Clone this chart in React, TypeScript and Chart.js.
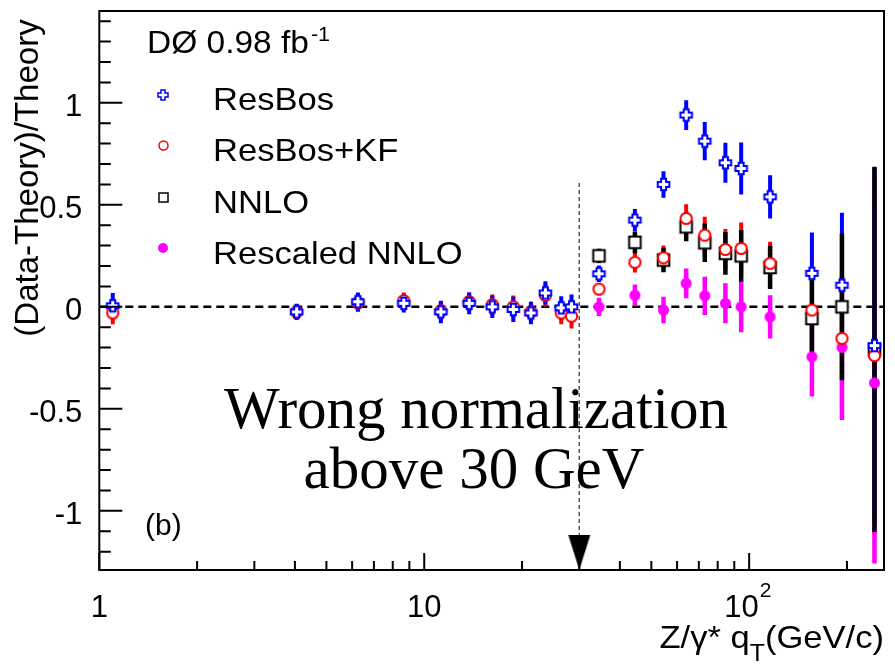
import React, { useEffect, useRef } from "react";
import { Chart, registerables } from "chart.js";

Chart.register(...registerables);

// ---------------- data ----------------
const qtLow = [1.1, 4.05, 6.25, 8.65, 11.25, 13.75, 16.2, 18.8, 21.3, 23.6, 26.4, 28.4];
const qtHigh = [34.5, 44.5, 54.5, 64, 73, 84.5, 94.5, 116, 156, 193, 243];

const resbosLowY = [0.005, -0.025, 0.025, 0.017, -0.025, 0.017, 0.0, -0.013, -0.03, 0.068, -0.005, 0.0];
const resbosLowErr = [0.063, 0.04, 0.045, 0.045, 0.055, 0.053, 0.055, 0.062, 0.055, 0.057, 0.057, 0.06];
const resbosHighY = [0.162, 0.425, 0.6, 0.94, 0.812, 0.706, 0.678, 0.539, 0.164, 0.106, -0.19];
const resbosHighErr = [0.04, 0.055, 0.065, 0.073, 0.094, 0.098, 0.127, 0.106, 0.2, 0.355, 0.87];

const kfLowY = [-0.03, -0.025, 0.02, 0.03, -0.02, 0.025, 0.01, 0.0, -0.025, 0.057, -0.03, -0.046];
const kfLowErr = [0.055, 0.035, 0.045, 0.04, 0.045, 0.045, 0.05, 0.055, 0.05, 0.055, 0.055, 0.06];
const kfHighY = [0.087, 0.218, 0.24, 0.433, 0.351, 0.281, 0.286, 0.213, -0.016, -0.155, -0.239];
const kfHighErr = [0.03, 0.05, 0.06, 0.07, 0.09, 0.1, 0.127, 0.106, 0.2, 0.35, 0.88];

const nnloY = [0.25, 0.316, 0.229, 0.392, 0.314, 0.262, 0.25, 0.193, -0.057, 0.0, -0.209];
const nnloErr = [0.035, 0.053, 0.06, 0.07, 0.094, 0.105, 0.127, 0.106, 0.19, 0.36, 0.895];

const rescaledY = [0.0, 0.057, -0.016, 0.115, 0.054, 0.017, 0.0, -0.049, -0.245, -0.199, -0.373];
const rescaledErr = [0.045, 0.053, 0.065, 0.073, 0.094, 0.098, 0.125, 0.106, 0.195, 0.356, 0.885];

const cutQt = 30;
const cutLineTop = 0.607;
const cutLineBottom = -1.12;

const xMin = 1;
const xMax = 260;
const yMin = -1.29;
const yMax = 1.45;

const xMajorTicks = [1, 10, 100];
const xMajorLabels = ["1", "10", "10\u2002"];
const xMajorExponents = ["", "", "2"];
const xMinorTicks = [2, 3, 4, 5, 6, 7, 8, 9, 20, 30, 40, 50, 60, 70, 80, 90, 200];
const yMajorTicks = [-1, -0.5, 0, 0.5, 1];
const yMajorLabels = ["-1", "-0.5", "0", "0.5", "1"];
const yMinorTicks = [-1.2, -1.1, -0.9, -0.8, -0.7, -0.6, -0.4, -0.3, -0.2, -0.1, 0.1, 0.2, 0.3, 0.4, 0.6, 0.7, 0.8, 0.9, 1.1, 1.2, 1.3, 1.4];

const legendLabels = ["ResBos", "ResBos+KF", "NNLO", "Rescaled NNLO"];
const experimentLabel = "DØ 0.98 fb";
const lumiExponent = "-1";
const noteLines = ["Wrong normalization", "above 30 GeV"];
const panelLabel = "(b)";
const yTitle = "(Data-Theory)/Theory";
const xTitleHead = "Z/γ* q";
const xTitleSub = "T";
const xTitleTail = "(GeV/c)";

// ---------------- styles ----------------
const SANS = '"Liberation Sans", Arial, Helvetica, sans-serif';
const SERIF = '"Liberation Serif", "Times New Roman", serif';
const BLUE = "#0000ff";
const RED = "#ff0000";
const MAGENTA = "#ff00ff";
const BLACK = "#000000";
const SX = 1.08; // horizontal widening of the sans annotation text

function makeCanvas(w: number, h: number, draw: (g: CanvasRenderingContext2D) => void) {
  const c = document.createElement("canvas");
  c.width = w;
  c.height = h;
  const g = c.getContext("2d")!;
  draw(g);
  return c;
}

function crossMarker(t: number, L: number, lw: number) {
  const s = Math.ceil(2 * (L + lw)) + 1;
  return makeCanvas(s, s, (g) => {
    const c = s / 2;
    g.translate(c, c);
    g.beginPath();
    const pts = [
      [-t, -L], [t, -L], [t, -t], [L, -t], [L, t], [t, t],
      [t, L], [-t, L], [-t, t], [-L, t], [-L, -t], [-t, -t],
    ];
    pts.forEach(([px, py], i) => (i ? g.lineTo(px, py) : g.moveTo(px, py)));
    g.closePath();
    g.fillStyle = "#fff";
    g.fill();
    g.strokeStyle = BLUE;
    g.lineWidth = lw;
    g.stroke();
  });
}

function circleMarker(r: number, lw: number) {
  const s = Math.ceil(2 * (r + lw)) + 1;
  return makeCanvas(s, s, (g) => {
    g.beginPath();
    g.arc(s / 2, s / 2, r, 0, Math.PI * 2);
    g.fillStyle = "#fff";
    g.fill();
    g.strokeStyle = RED;
    g.lineWidth = lw;
    g.stroke();
  });
}

function squareMarker(h: number, lw: number) {
  const s = Math.ceil(2 * (h + lw)) + 1;
  return makeCanvas(s, s, (g) => {
    g.fillStyle = "#fff";
    g.fillRect(s / 2 - h, s / 2 - h, 2 * h, 2 * h);
    g.strokeStyle = BLACK;
    g.lineWidth = lw;
    g.strokeRect(s / 2 - h, s / 2 - h, 2 * h, 2 * h);
  });
}

function dotMarker(r: number) {
  const s = Math.ceil(2 * r) + 2;
  return makeCanvas(s, s, (g) => {
    g.beginPath();
    g.arc(s / 2, s / 2, r, 0, Math.PI * 2);
    g.fillStyle = MAGENTA;
    g.fill();
  });
}

function arrowMarker() {
  // tip at the canvas centre so the data point is the tip
  return makeCanvas(24, 72, (g) => {
    g.beginPath();
    g.moveTo(1, 1);
    g.lineTo(23, 1);
    g.lineTo(12, 36);
    g.closePath();
    g.fillStyle = BLACK;
    g.fill();
  });
}

const points = (xs: number[], ys: number[]) => xs.map((x, i) => ({ x, y: ys[i] }));
const errorSegments = (xs: number[], ys: number[], es: number[]) =>
  xs.flatMap((x, i) => [
    { x, y: ys[i] - es[i] },
    { x, y: ys[i] + es[i] },
    { x, y: null as any },
  ]);

function barDataset(data: any[], color: string, width: number, order: number) {
  return {
    type: "line" as const,
    data,
    borderColor: color,
    borderWidth: width,
    borderCapStyle: "butt" as const,
    pointRadius: 0,
    pointHoverRadius: 0,
    showLine: true,
    spanGaps: false,
    fill: false,
    tension: 0,
    order,
  };
}

function markerDataset(data: any[], img: HTMLCanvasElement, order: number) {
  return {
    type: "scatter" as const,
    data,
    pointStyle: img,
    pointRadius: 6,
    pointHoverRadius: 6,
    showLine: false,
    order,
  };
}

function wideText(ctx: CanvasRenderingContext2D, text: string, x: number, y: number, font: string) {
  ctx.save();
  ctx.font = font;
  ctx.textAlign = "left";
  ctx.translate(x, y);
  ctx.scale(SX, 1);
  ctx.fillText(text, 0, 0);
  const w = ctx.measureText(text).width * SX;
  ctx.restore();
  return w;
}

export default function App() {
  const ref = useRef<HTMLCanvasElement>(null);

  useEffect(() => {
    const canvas = ref.current!;
    const imgCross = crossMarker(2.5, 5.8, 2);
    const imgCircle = circleMarker(5.6, 2);
    const imgSquare = squareMarker(5.8, 2);
    const imgDot = dotMarker(5.5);
    const imgArrow = arrowMarker();
    const legCross = crossMarker(2, 5, 1.5);
    const legCircle = circleMarker(4.5, 1.5);
    const legSquare = squareMarker(4.5, 1.5);
    const legDot = dotMarker(5);
    const legendImgs = [legCross, legCircle, legSquare, legDot];

    const resbosX = [...qtLow, ...qtHigh];
    const resbosY = [...resbosLowY, ...resbosHighY];
    const resbosE = [...resbosLowErr, ...resbosHighErr];
    const kfY = [...kfLowY, ...kfHighY];
    const kfE = [...kfLowErr, ...kfHighErr];

    const decor = {
      id: "decor",
      afterDraw(chart: any) {
        const { ctx, chartArea: a, scales } = chart;
        const x = scales.x;
        const y = scales.y;
        ctx.save();
        // ticks (inward)
        ctx.strokeStyle = BLACK;
        ctx.lineWidth = 2;
        ctx.beginPath();
        yMajorTicks.forEach((v) => {
          const py = y.getPixelForValue(v);
          ctx.moveTo(a.left, py);
          ctx.lineTo(a.left + 23, py);
        });
        yMinorTicks.forEach((v) => {
          const py = y.getPixelForValue(v);
          ctx.moveTo(a.left, py);
          ctx.lineTo(a.left + 11.5, py);
        });
        xMajorTicks.forEach((v) => {
          const px = x.getPixelForValue(v);
          ctx.moveTo(px, a.bottom);
          ctx.lineTo(px, a.bottom - 17);
        });
        xMinorTicks.forEach((v) => {
          const px = x.getPixelForValue(v);
          ctx.moveTo(px, a.bottom);
          ctx.lineTo(px, a.bottom - 9);
        });
        ctx.stroke();
        // frame
        ctx.lineWidth = 2;
        ctx.strokeRect(a.left, a.top, a.right - a.left, a.bottom - a.top);

        ctx.fillStyle = BLACK;
        ctx.textBaseline = "alphabetic";

        // exponent of the 10^2 tick label
        ctx.font = `31px ${SANS}`;
        xMajorTicks.forEach((v, i) => {
          const e = xMajorExponents[i];
          if (!e) return;
          const px = x.getPixelForValue(v);
          const full = ctx.measureText(xMajorLabels[i]).width;
          const base = ctx.measureText(xMajorLabels[i].trim()).width;
          ctx.save();
          ctx.font = `21px ${SANS}`;
          ctx.textAlign = "left";
          ctx.fillText(e, px - full / 2 + base + 1, a.bottom + 27);
          ctx.restore();
        });

        // experiment label
        const w = wideText(ctx, experimentLabel, 147, 53, `31px ${SANS}`);
        wideText(ctx, lumiExponent, 147 + w + 2, 41, `20px ${SANS}`);

        // legend
        const rows = [94.5, 145.5, 197, 248];
        legendLabels.forEach((lab, i) => {
          const img = legendImgs[i];
          ctx.drawImage(img, Math.round(163 - img.width / 2), Math.round(rows[i] - img.height / 2));
          wideText(ctx, lab, 213, rows[i] + 15.5, `32px ${SANS}`);
        });

        // note
        ctx.font = `59px ${SERIF}`;
        ctx.textAlign = "center";
        ctx.fillText(noteLines[0], 476, 428);
        ctx.fillText(noteLines[1], 474, 488);

        // panel label
        ctx.font = `30px ${SANS}`;
        ctx.textAlign = "left";
        ctx.fillText(panelLabel, 145, 535);

        // x title  Z/γ* q_T(GeV/c), right aligned at the frame edge
        ctx.font = `32px ${SANS}`;
        const tailW = ctx.measureText(xTitleTail).width * SX;
        const headW = ctx.measureText(xTitleHead).width * SX;
        ctx.font = `23px ${SANS}`;
        const subW = ctx.measureText(xTitleSub).width * SX;
        const right = 884;
        wideText(ctx, xTitleTail, right - tailW, 648, `32px ${SANS}`);
        wideText(ctx, xTitleSub, right - tailW - subW, 661, `23px ${SANS}`);
        wideText(ctx, xTitleHead, right - tailW - subW - headW, 648, `32px ${SANS}`);

        // y title
        ctx.save();
        ctx.translate(38, 178);
        ctx.rotate(-Math.PI / 2);
        ctx.textAlign = "center";
        ctx.font = `33px ${SANS}`;
        ctx.fillText(yTitle, 0, 0);
        ctx.restore();

        ctx.restore();
      },
    };

    const chart = new Chart(canvas, {
      type: "scatter",
      data: {
        datasets: [
          markerDataset(points(resbosX, resbosY), imgCross, 1),
          markerDataset(points(resbosX, kfY), imgCircle, 2),
          markerDataset(points(qtHigh, nnloY), imgSquare, 3),
          markerDataset(points(qtHigh, rescaledY), imgDot, 4),
          markerDataset([{ x: cutQt, y: yMin }], imgArrow, 5),
          barDataset(errorSegments(qtHigh, nnloY, nnloErr), BLACK, 4.5, 6),
          barDataset(errorSegments(resbosX, resbosY, resbosE), BLUE, 4, 7),
          barDataset(errorSegments(qtHigh, rescaledY, rescaledErr), MAGENTA, 4.5, 8),
          barDataset(errorSegments(resbosX, kfY, kfE), RED, 4, 9),
          {
            type: "line" as const,
            data: [
              { x: cutQt, y: cutLineTop },
              { x: cutQt, y: cutLineBottom },
            ],
            borderColor: "#555",
            borderWidth: 1.5,
            borderDash: [4, 3],
            pointRadius: 0,
            fill: false,
            order: 10,
          },
          {
            type: "line" as const,
            data: [
              { x: xMin, y: 0 },
              { x: xMax, y: 0 },
            ],
            borderColor: BLACK,
            borderWidth: 2.5,
            borderDash: [8, 5],
            pointRadius: 0,
            fill: false,
            order: 11,
          },
        ] as any,
      },
      options: {
        animation: false,
        responsive: false,
        devicePixelRatio: 1,
        events: [],
        layout: { padding: { top: 11, right: 11, left: 0, bottom: 0 } },
        plugins: {
          legend: { display: false },
          tooltip: { enabled: false },
        },
        scales: {
          x: {
            type: "logarithmic",
            min: xMin,
            max: xMax,
            position: "bottom",
            grid: { display: false },
            border: { display: false },
            ticks: {
              autoSkip: false,
              maxRotation: 0,
              minRotation: 0,
              padding: 12,
              color: BLACK,
              font: { family: SANS, size: 31 },
              callback: (v: any) => {
                const i = xMajorTicks.indexOf(Number(v));
                return i >= 0 ? xMajorLabels[i] : "";
              },
            },
            afterBuildTicks: (s: any) => {
              s.ticks = xMajorTicks.map((v) => ({ value: v }));
            },
            afterFit: (s: any) => {
              s.height = 100;
              s.paddingLeft = 0;
              s.paddingRight = 0;
            },
          },
          y: {
            type: "linear",
            min: yMin,
            max: yMax,
            grid: { display: false },
            border: { display: false },
            ticks: {
              padding: 9,
              labelOffset: 5,
              color: BLACK,
              font: { family: SANS, size: 31 },
              callback: (v: any) => {
                const i = yMajorTicks.indexOf(Number(v));
                return i >= 0 ? yMajorLabels[i] : "";
              },
            },
            afterBuildTicks: (s: any) => {
              s.ticks = yMajorTicks.map((v) => ({ value: v }));
            },
            afterFit: (s: any) => {
              s.width = 99.3;
              s.paddingTop = 0;
              s.paddingBottom = 0;
            },
          },
        },
      } as any,
      plugins: [decor],
    });
    return () => chart.destroy();
  }, []);

  return (
    <div style={{ position: "fixed", left: 0, top: 0, width: 895, height: 670, background: "#fff" }}>
      <canvas ref={ref} width={895} height={670} style={{ display: "block", width: 895, height: 670 }} />
    </div>
  );
}
